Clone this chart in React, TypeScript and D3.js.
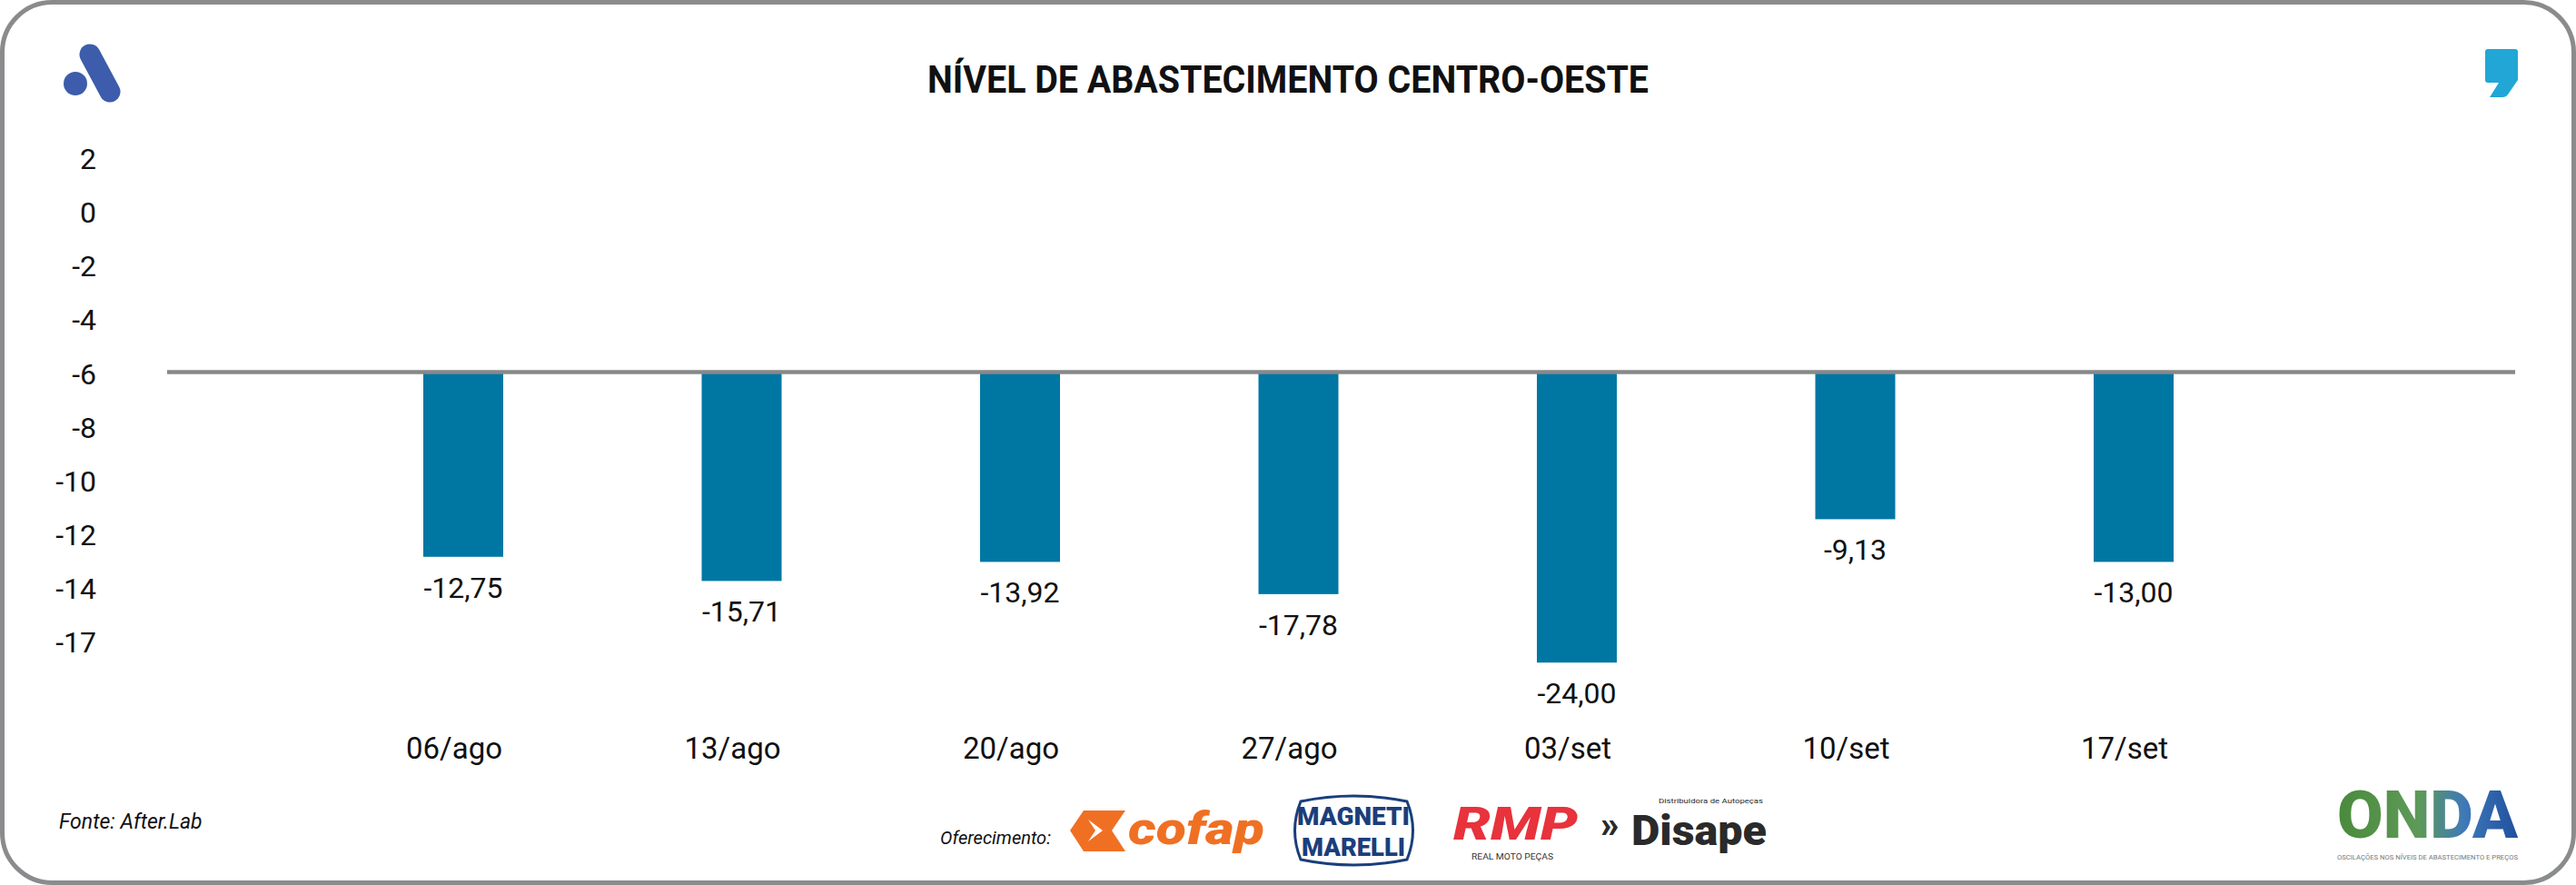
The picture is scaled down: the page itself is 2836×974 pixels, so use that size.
import React from 'react';
import * as d3 from 'd3';

// semanas
const categories = ['06/ago', '13/ago', '20/ago', '27/ago', '03/set', '10/set', '17/set'];
// fim de cada barra, em unidades do eixo
const barEnds = [-12.88, -13.78, -13.07, -14.27, -16.82, -11.48, -13.07];
// rótulos impressos sob as barras
const valueLabels = ['-12,75', '-15,71', '-13,92', '-17,78', '-24,00', '-9,13', '-13,00'];
// eixo vertical
const tickValues = [2, 0, -2, -4, -6, -8, -10, -12, -14, -16];
const tickLabels = ['2', '0', '-2', '-4', '-6', '-8', '-10', '-12', '-14', '-17'];
const baseline = -6;

const W = 2836;
const H = 974;
const FONT = 'Roboto, "Noto Sans", sans-serif';
const BAR = '#0077a3';
const GRID = '#87888a';

const App: React.FC = () => {
  const y = d3.scaleLinear().domain([baseline, -16]).range([409.5, 705]);
  const x = d3.scalePoint<string>().domain(categories).range([510, 2349]);
  const barW = 88;

  return (
    <svg
      width={W}
      height={H}
      viewBox={`0 0 ${W} ${H}`}
      style={{ position: 'absolute', left: 0, top: 0, background: '#fff' }}
      fontFamily={FONT}
    >
      <defs>
        <linearGradient id="onda" x1="0" x2="1" y1="0" y2="0">
          <stop offset="0" stopColor="#4a8a3c" />
          <stop offset="0.45" stopColor="#5d9a58" />
          <stop offset="0.7" stopColor="#3f79b8" />
          <stop offset="1" stopColor="#1f4f9e" />
        </linearGradient>
      </defs>

      {/* moldura */}
      <rect x={2.5} y={2.5} width={W - 5} height={H - 5} rx={55} ry={55} fill="#fff" stroke="#8a8b8d" strokeWidth={5} />

      {/* logo A */}
      <line x1={99} y1={60} x2={121} y2={101} stroke="#3d5cab" strokeWidth={23} strokeLinecap="round" />
      <circle cx={83} cy={92} r={13} fill="#3d5cab" />

      {/* logo vírgula */}
      <path
        d="M2739,54 H2769 Q2772,54 2772,57 V88 L2761,104 Q2759,107 2755,107 H2741 L2751,91 H2739 Q2736,91 2736,88 V57 Q2736,54 2739,54 Z"
        fill="#22a6d6"
      />

      {/* título */}
      <text x={W / 2} y={102} textAnchor="middle" fontSize={42} fontWeight={700} textLength={794} lengthAdjust="spacingAndGlyphs" fill="#111">
        NÍVEL DE ABASTECIMENTO CENTRO-OESTE
      </text>

      {/* eixo y */}
      {tickValues.map((v, i) => (
        <text key={v} x={106} y={y(v) + 13} textAnchor="end" fontSize={32} fill="#111">
          {tickLabels[i]}
        </text>
      ))}

      {/* barras */}
      {categories.map((c, i) => (
        <rect key={c} x={(x(c) ?? 0) - barW / 2} y={y(baseline)} width={barW} height={y(barEnds[i]) - y(baseline)} fill={BAR} />
      ))}

      {/* linha de referência */}
      <line x1={184} x2={2769} y1={y(baseline)} y2={y(baseline)} stroke={GRID} strokeWidth={4.5} />

      {/* rótulos de valor */}
      {categories.map((c, i) => (
        <text key={c} x={x(c) ?? 0} y={y(barEnds[i]) + 45} textAnchor="middle" fontSize={32} fill="#111">
          {valueLabels[i]}
        </text>
      ))}

      {/* rótulos de categoria */}
      {categories.map((c) => (
        <text key={c} x={(x(c) ?? 0) - 10} y={835} textAnchor="middle" fontSize={33} fill="#111">
          {c}
        </text>
      ))}

      {/* rodapé */}
      <text x={65} y={912} fontSize={23} fontStyle="italic" fill="#111">Fonte: After.Lab</text>
      <text x={1035} y={929} fontSize={20} fontStyle="italic" fill="#111" textLength={122} lengthAdjust="spacingAndGlyphs">
        Oferecimento:
      </text>

      {/* cofap */}
      <path d="M1193,892 L1239,892 L1224,914 L1239,937 L1193,937 L1178,914 Z" fill="#f07023" />
      <path d="M1198,902 L1214,914 L1198,926 L1206,914 Z" fill="#fff" />
      <text x={1242} y={929} fontSize={50} fontWeight={900} fontStyle="italic" fill="#f07023" textLength={150} lengthAdjust="spacingAndGlyphs">
        cofap
      </text>

      {/* magneti marelli */}
      <path
        d="M1432,882 Q1490,870 1549,882 Q1562,914 1549,946 Q1490,958 1432,946 Q1419,914 1432,882 Z"
        fill="none"
        stroke="#1b3e7b"
        strokeWidth={3}
      />
      <text x={1490} y={908} textAnchor="middle" fontSize={28} fontWeight={900} fill="#1b3e7b" textLength={124} lengthAdjust="spacingAndGlyphs">
        MAGNETI
      </text>
      <text x={1490} y={942} textAnchor="middle" fontSize={28} fontWeight={900} fill="#1b3e7b" textLength={114} lengthAdjust="spacingAndGlyphs">
        MARELLI
      </text>

      {/* rmp */}
      <text x={1600} y={924} fontSize={50} fontWeight={900} fontStyle="italic" fill="#e8323c" textLength={137} lengthAdjust="spacingAndGlyphs">
        RMP
      </text>
      <text x={1620} y={946} fontSize={9} fill="#333" textLength={90} lengthAdjust="spacingAndGlyphs">
        REAL MOTO PEÇAS
      </text>

      {/* disape */}
      <text x={1762} y={921} fontSize={40} fontWeight={900} fill="#2a2a2a">»</text>
      <text x={1796} y={930} fontSize={46} fontWeight={900} fill="#2a2a2a" textLength={149} lengthAdjust="spacingAndGlyphs">
        Disape
      </text>
      <text x={1826} y={884} fontSize={8} fill="#2a2a2a" textLength={115} lengthAdjust="spacingAndGlyphs">
        Distribuidora de Autopeças
      </text>

      {/* onda */}
      <text x={2573} y={922} fontSize={72} fontWeight={900} fill="url(#onda)" textLength={199} lengthAdjust="spacingAndGlyphs">
        ONDA
      </text>
      <text x={2573} y={946} fontSize={7.5} fill="#777" textLength={199} lengthAdjust="spacingAndGlyphs">
        OSCILAÇÕES NOS NÍVEIS DE ABASTECIMENTO E PREÇOS
      </text>
    </svg>
  );
};

export default App;
